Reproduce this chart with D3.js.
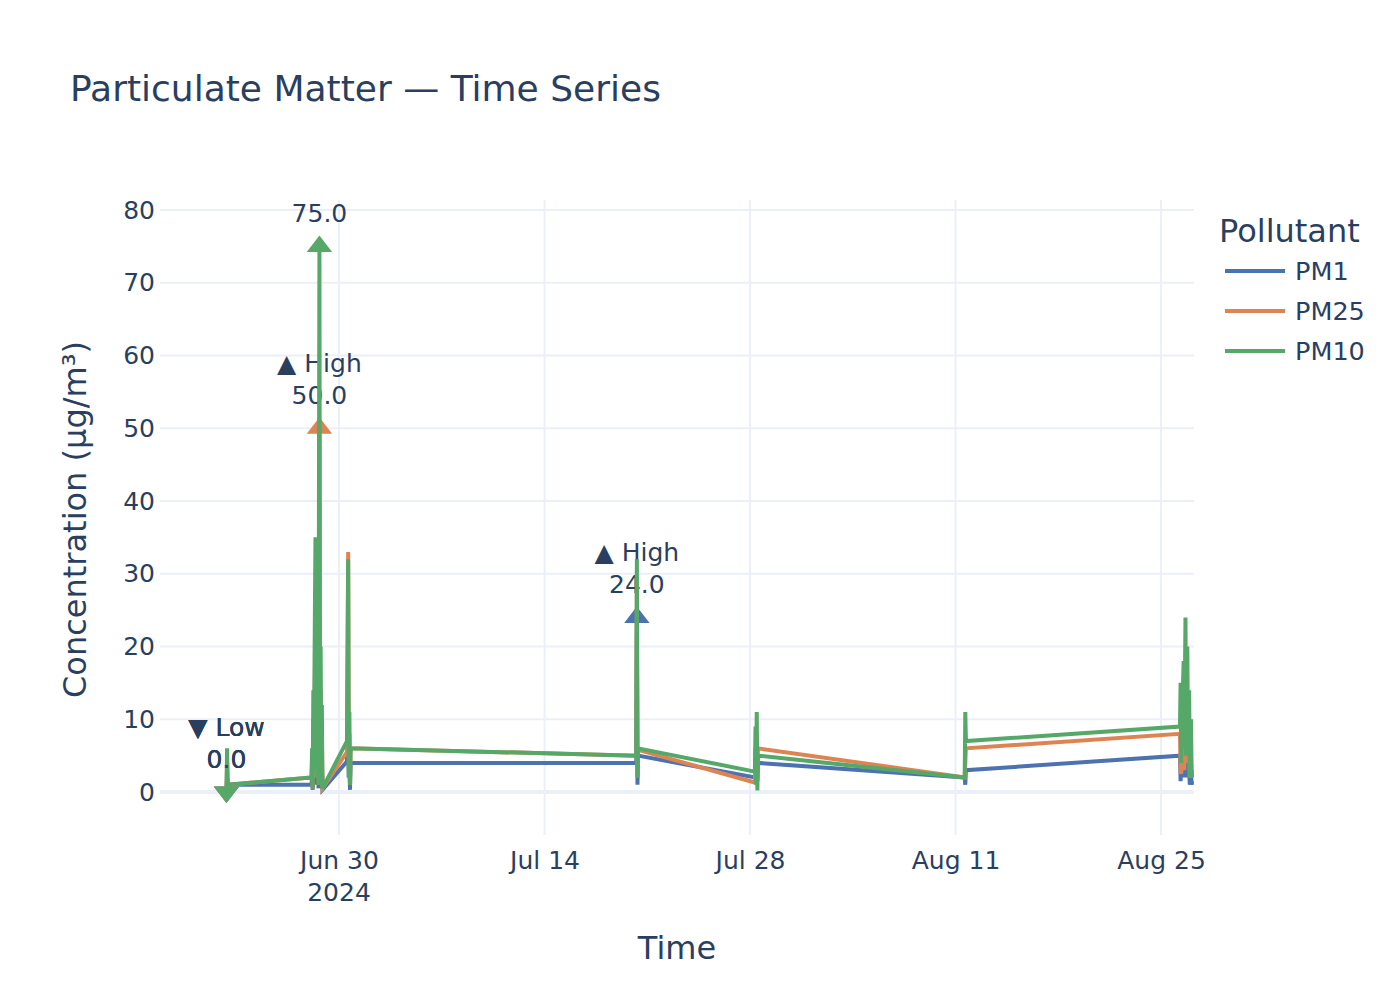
<!DOCTYPE html>
<html>
<head>
<meta charset="utf-8">
<script src="https://cdn.jsdelivr.net/npm/d3@7"></script>
<style>
  html, body { margin: 0; padding: 0; background: #fff; }
  svg { display: block; font-family: "DejaVu Sans", Verdana, sans-serif; }
</style>
</head>
<body>
<svg id="chart" width="1400" height="1000"></svg>
<script>
// ---------------- DATA ----------------
const times = [
  "2024-06-22T08:00", "2024-06-22T09:00", "2024-06-22T10:00",
  "2024-06-28T03:00", "2024-06-28T04:00", "2024-06-28T05:00", "2024-06-28T06:00",
  "2024-06-28T07:00", "2024-06-28T08:00", "2024-06-28T09:30", "2024-06-28T10:30",
  "2024-06-28T11:30", "2024-06-28T12:30", "2024-06-28T13:30", "2024-06-28T14:30",
  "2024-06-28T15:00", "2024-06-28T16:00", "2024-06-28T17:00", "2024-06-28T18:00",
  "2024-06-28T19:00", "2024-06-28T20:00", "2024-06-28T21:00",
  "2024-06-30T13:00", "2024-06-30T15:00", "2024-06-30T16:00", "2024-06-30T17:00",
  "2024-06-30T18:00", "2024-06-30T19:00",
  "2024-07-20T06:00", "2024-07-20T07:00", "2024-07-20T08:00", "2024-07-20T09:00",
  "2024-07-28T08:00", "2024-07-28T09:00", "2024-07-28T10:00", "2024-07-28T11:00",
  "2024-07-28T12:00", "2024-07-28T13:00",
  "2024-08-11T15:00", "2024-08-11T16:00", "2024-08-11T17:00",
  "2024-08-26T07:00", "2024-08-26T08:00", "2024-08-26T09:00", "2024-08-26T11:00",
  "2024-08-26T13:00", "2024-08-26T14:00", "2024-08-26T16:00", "2024-08-26T17:00",
  "2024-08-26T19:00", "2024-08-26T20:00", "2024-08-26T22:00", "2024-08-26T23:00",
  "2024-08-27T01:00", "2024-08-27T02:00", "2024-08-27T03:00"
];
const pm1 = [
  0, 2, 1,
  1, 2, 0.3, 5, 1, 6, 9, 1, 8, 1, 10, 0.5, 9, 15, 1, 6, 1, 4, 0.3,
  4.2, 9, 2, 3, 0.3, 4,
  4, 24, 1, 5,
  2, 3, 2, 5, 1.5, 4,
  2, 1, 3,
  5, 1.5, 3, 2, 4, 2, 7, 2, 5, 2, 3, 1, 3, 1, 1.5
];
const pm25 = [
  0, 4, 1,
  2, 4, 0.5, 10, 2, 12, 22, 3, 18, 2, 20, 1, 20, 50, 2, 14, 1.5, 8, 0.5,
  5.5, 33, 3, 8, 1, 6,
  5, 28, 2, 5.8,
  1.3, 6, 1, 8, 2, 6,
  2, 4, 6,
  8, 3, 2.5, 5, 6, 3, 12, 4, 10, 4, 6, 2, 5, 2, 3
];
const pm10 = [
  0, 6, 1,
  2, 6, 0.5, 14, 3, 18, 35, 4, 28, 2, 30, 1, 30, 75, 3, 20, 2, 12, 0.5,
  7, 32, 2, 11, 1, 6,
  5, 32, 2, 6,
  2.8, 9, 1, 11, 0.2, 5,
  2, 11, 7,
  9, 15, 4, 12, 18, 6, 24, 5, 20, 8, 14, 2, 10, 2.5, 2
];
const seriesNames = ["PM1", "PM25", "PM10"];
const seriesColors = ["#4C72B0", "#DD8452", "#55A868"];
const yTicks = [0, 10, 20, 30, 40, 50, 60, 70, 80];
const xTickDates = ["2024-06-30", "2024-07-14", "2024-07-28", "2024-08-11", "2024-08-25"];
const xTickLabels = ["Jun 30", "Jul 14", "Jul 28", "Aug 11", "Aug 25"];
const xTickYear = "2024";
const titleText = "Particulate Matter \u2014 Time Series";
const xTitle = "Time";
const yTitle = "Concentration (\u00b5g/m\u00b3)";
const legendTitle = "Pollutant";

// ---------------- LAYOUT ----------------
const plot = { left: 160, right: 1194, top: 200, bottom: 835 };
const textColor = "#2a3f5f";
const gridColor = "#EBF0F8";
const parse = d3.utcParse("%Y-%m-%dT%H:%M");
const parseDay = d3.utcParse("%Y-%m-%d");
const dates = times.map(parse);
const valuesBySeries = [pm1, pm25, pm10];

const x = d3.scaleUtc()
  .domain([new Date(Date.UTC(2024, 5, 17, 19, 20)), new Date(Date.UTC(2024, 7, 27, 5, 55))])
  .range([plot.left, plot.right]);
const y = d3.scaleLinear().domain([-5.91, 81.375]).range([plot.bottom, plot.top]);

const svg = d3.select("#chart");
svg.append("rect").attr("width", 1400).attr("height", 1000).attr("fill", "#fff");

const defs = svg.append("defs");
defs.append("clipPath").attr("id", "clip")
  .append("rect")
  .attr("x", plot.left).attr("y", plot.top)
  .attr("width", plot.right - plot.left).attr("height", plot.bottom - plot.top);

// grid
const grid = svg.append("g");
grid.selectAll("line.v").data(xTickDates.map(parseDay)).enter().append("line")
  .attr("x1", d => x(d)).attr("x2", d => x(d))
  .attr("y1", plot.top).attr("y2", plot.bottom)
  .attr("stroke", gridColor).attr("stroke-width", 2);
grid.selectAll("line.h").data(yTicks.filter(v => v !== 0)).enter().append("line")
  .attr("x1", plot.left).attr("x2", plot.right)
  .attr("y1", d => y(d)).attr("y2", d => y(d))
  .attr("stroke", gridColor).attr("stroke-width", 2);
grid.append("line")
  .attr("x1", plot.left).attr("x2", plot.right)
  .attr("y1", y(0)).attr("y2", y(0))
  .attr("stroke", gridColor).attr("stroke-width", 4);

// axes
const yAxis = svg.append("g")
  .attr("transform", `translate(${plot.left},0)`)
  .call(d3.axisLeft(y).tickValues(yTicks).tickSize(0).tickPadding(5));
yAxis.select(".domain").remove();
yAxis.selectAll("text").attr("fill", textColor).style("font-size", "25px")
  .style("font-family", "DejaVu Sans");

const xAxis = svg.append("g")
  .attr("transform", `translate(0,${plot.bottom})`)
  .call(d3.axisBottom(x).tickValues(xTickDates.map(parseDay))
    .tickFormat((d, i) => xTickLabels[i]).tickSize(0).tickPadding(16));
xAxis.select(".domain").remove();
xAxis.selectAll("text").attr("fill", textColor).style("font-size", "25px")
  .style("font-family", "DejaVu Sans");
svg.append("text")
  .attr("x", x(parseDay(xTickDates[0]))).attr("y", 901)
  .attr("text-anchor", "middle").attr("fill", textColor)
  .style("font-size", "25px").text(xTickYear);

// titles
svg.append("text").attr("x", 70).attr("y", 101)
  .attr("fill", textColor).style("font-size", "36px").text(titleText);
svg.append("text").attr("x", (plot.left + plot.right) / 2).attr("y", 959)
  .attr("text-anchor", "middle").attr("fill", textColor)
  .style("font-size", "32px").text(xTitle);
svg.append("text")
  .attr("transform", `translate(86,${(plot.top + plot.bottom) / 2 + 2}) rotate(-90)`)
  .attr("text-anchor", "middle").attr("fill", textColor)
  .style("font-size", "32px").text(yTitle);

// series
const line = d3.line().x(d => x(d.t)).y(d => y(d.v));
const dataLayer = svg.append("g").attr("clip-path", "url(#clip)");

function triPath(r, up) {
  const rt = r * 2 / Math.sqrt(3);
  return up
    ? `M${-rt},${r / 2}H${rt}L0,${-r}Z`
    : `M${-rt},${-r / 2}H${rt}L0,${r}Z`;
}

valuesBySeries.forEach((vals, si) => {
  const pts = vals.map((v, i) => ({ t: dates[i], v }));
  const g = dataLayer.append("g");
  g.append("path").attr("d", line(pts))
    .attr("fill", "none").attr("stroke", seriesColors[si]).attr("stroke-width", 4);

  const hi = d3.maxIndex(vals);
  const lo = d3.minIndex(vals);
  const marks = [
    { i: hi, up: true, label: "\u25b2 High" },
    { i: lo, up: false, label: "\u25bc Low" }
  ];
  marks.forEach(m => {
    const px = x(dates[m.i]), py = y(vals[m.i]);
    g.append("path").attr("d", triPath(11, m.up))
      .attr("transform", `translate(${px},${py})`)
      .attr("fill", seriesColors[si]);
  });
  marks.forEach(m => {
    const px = x(dates[m.i]), py = y(vals[m.i]);
    const t = g.append("text").attr("text-anchor", "middle").attr("fill", textColor)
      .style("font-size", "25px");
    t.append("tspan").attr("x", px).attr("y", py - 56).text(m.label);
    t.append("tspan").attr("x", px).attr("y", py - 24).text(d3.format(".1f")(vals[m.i]));
  });
});

// legend
const lg = svg.append("g");
lg.append("text").attr("x", 1219).attr("y", 242).attr("fill", textColor)
  .style("font-size", "32px").text(legendTitle);
seriesNames.forEach((name, i) => {
  const cy = 271 + i * 40;
  lg.append("line").attr("x1", 1225).attr("x2", 1285).attr("y1", cy).attr("y2", cy)
    .attr("stroke", seriesColors[i]).attr("stroke-width", 4);
  lg.append("text").attr("x", 1295).attr("y", cy + 9).attr("fill", textColor)
    .style("font-size", "25.5px").text(name);
});
</script>
</body>
</html>
